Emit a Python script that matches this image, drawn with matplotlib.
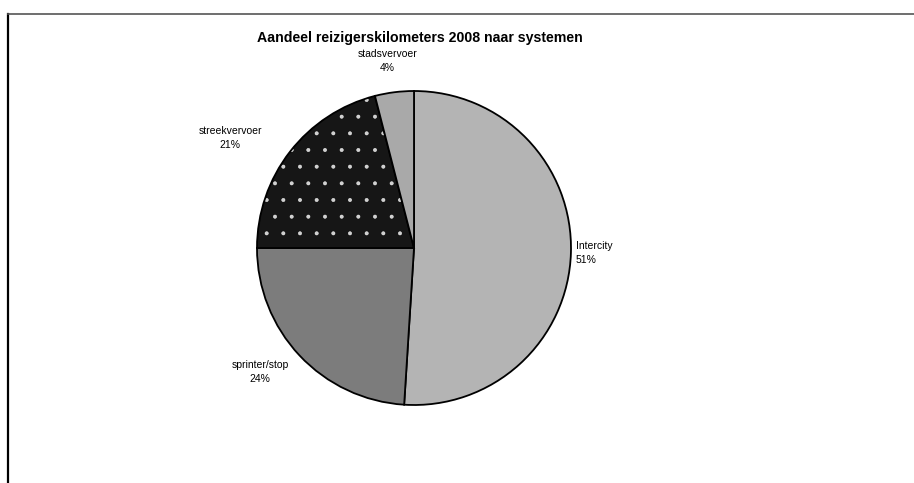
import numpy as np
import matplotlib
matplotlib.use("Agg")
import matplotlib.pyplot as plt

plt.rcParams['font.family'] = ['Liberation Sans', 'DejaVu Sans']
plt.rcParams['hatch.color'] = 'white'
plt.rcParams['hatch.linewidth'] = 0.4

# reizigerskilometers 2008 per systeem (percentages)
systemen = ["Intercity", "sprinter/stop", "streekvervoer", "stadsvervoer"]
aandeel = [51, 24, 21, 4]
kleuren = ["#b4b4b4", "#7c7c7c", "#161616", "#a9a9a9"]

fig = plt.figure(figsize=(9.14, 4.83), dpi=100)
W, H = 914, 483
cx, cy, r = 414, 248, 157
ax = fig.add_axes([(cx - r) / W, (H - cy - r) / H, 2 * r / W, 2 * r / H])

wedges, texts = ax.pie(aandeel, colors=kleuren, startangle=90, counterclock=False,
                       radius=1.0, labels=[f"{s}\n{a}%" for s, a in zip(systemen, aandeel)],
                       wedgeprops=dict(edgecolor="black", linewidth=1.3),
                       textprops=dict(fontsize=7.5, linespacing=1.5))

# stippen in het streekvervoer-vlak
wedges[2].set_hatch(".")
wedges[2]._hatch_color = (1, 1, 1, 0.8)

# labels zoals in de Excel-grafiek
posities = [(1.03, -0.03), (-0.98, -0.79), (-1.17, 0.70), (-0.17, 1.19)]
for t, p in zip(texts, posities):
    t.set_position(p)
    t.set_ha("center")
    t.set_va("center")
texts[0].set_ha("left")

ax.set_xlim(-1, 1)
ax.set_ylim(-1, 1)
ax.set_aspect("equal")

fig.text(420 / W, 1 - 38 / H, "Aandeel reizigerskilometers 2008 naar systemen",
         ha="center", va="center", fontsize=10.2, fontweight="bold")

# kader links en boven
fig.add_artist(plt.Line2D([8 / W, 8 / W], [0, 1 - 14 / H], color="black", linewidth=1.6))
fig.add_artist(plt.Line2D([8 / W, 1], [1 - 14 / H, 1 - 14 / H], color="#555555", linewidth=1.2))

fig.savefig("out.png", dpi=100)
